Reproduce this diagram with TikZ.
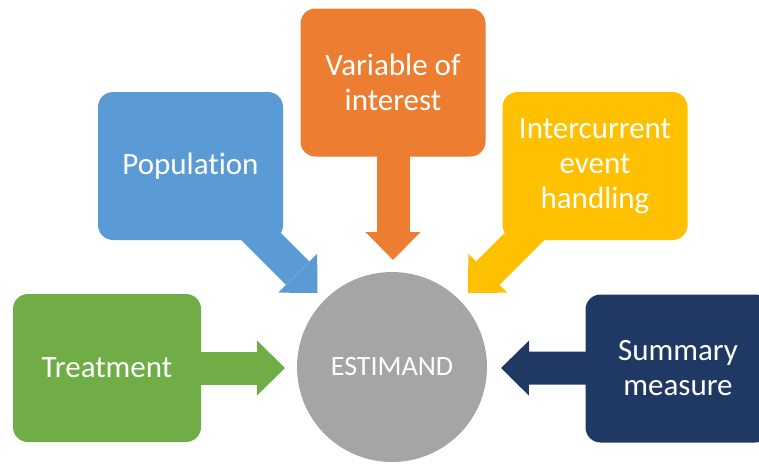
\documentclass[tikz,border=0pt]{standalone}
\usepackage{fontspec}
\setmainfont{Carlito}[Ligatures=NoCommon]
\usetikzlibrary{arrows.meta,backgrounds}
\definecolor{cgreen}{HTML}{70AD47}
\definecolor{cblue}{HTML}{5B9BD5}
\definecolor{corange}{HTML}{ED7D31}
\definecolor{cyellow}{HTML}{FFC000}
\definecolor{cnavy}{HTML}{203864}
\definecolor{cgray}{HTML}{A5A5A5}
\tikzset{
  box/.style={rectangle, rounded corners=15pt, minimum width=185pt, minimum height=148pt, inner sep=0pt, text=white, align=center, font=\fontsize{31}{35}\selectfont},
  arr/.style={line width=33pt, -{Triangle[length=28pt 0 0, width=55pt 0 0, line width=0pt 0 0]}}
}
\begin{document}
\begin{tikzpicture}[x=1pt, y=-1pt]
\useasboundingbox (0,0) rectangle (759,463);
\node[circle, minimum size=190pt, inner sep=0pt, fill=cgray, text=white, font=\fontsize{28}{32}\selectfont] (est) at (392,367){ESTIMAND};
\node[box, fill=cgreen, minimum width=188pt] (treat) at (107,368){Treatment};
\node[box, fill=cblue] (popul) at (190.5,166){Population};
\node[box, fill=corange] (varint) at (393,82.5){Variable of\\interest};
\node[box, fill=cyellow] (icev) at (595,166){Intercurrent\\event\\handling};
\node[box, fill=cnavy] (summ) at (678,368.5){Summary\\measure};
\coordinate (tiptreat) at (285,368);
\coordinate (tippopul) at (317.5,293);
\coordinate (tipvarint) at (393,260);
\coordinate (tipicev) at (468,293);
\coordinate (tipsumm) at (501,368);
\begin{scope}[on background layer]
\draw[arr, cgreen] (treat.center) -- (tiptreat);
\draw[arr, cblue] (popul.center) -- (tippopul);
\draw[arr, corange] (varint.center) -- (tipvarint);
\draw[arr, cyellow] (icev.center) -- (tipicev);
\draw[arr, cnavy] (summ.center) -- (tipsumm);
\end{scope}
\end{tikzpicture}
\end{document}
